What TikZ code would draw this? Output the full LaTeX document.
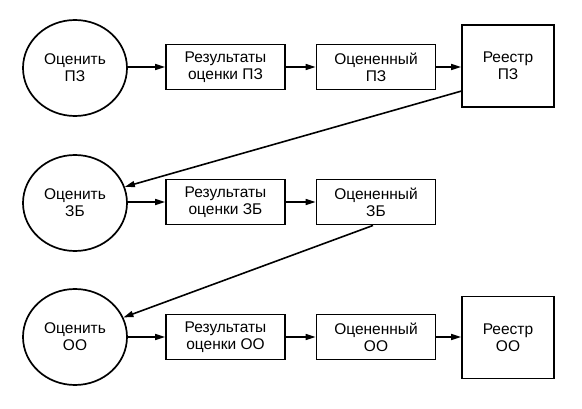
\documentclass[tikz,border=0pt]{standalone}
\usepackage{fontspec}
\setmainfont{Liberation Sans}
\usetikzlibrary{shapes.geometric,arrows.meta,calc}
\tikzset{
  lbl/.style={align=center, font=\fontsize{15.5}{17}\selectfont},
  proc/.style={ellipse, draw, line width=1.7pt, inner sep=0pt, minimum width=104pt, minimum height=96pt, lbl},
  dbox/.style={rectangle, draw, line width=1.9pt, inner sep=0pt, minimum width=119pt, minimum height=45pt, lbl},
  rbox/.style={rectangle, draw, line width=1.9pt, inner sep=0pt, minimum width=92pt, minimum height=82pt, lbl},
  arr/.style={line width=1.6pt, -{Triangle[length=10pt,width=6pt]}}
}
\begin{document}
\begin{tikzpicture}[x=1pt,y=-1pt]
\useasboundingbox (0,0) rectangle (582,409);
% row 1
\node[proc] (c1) at (75,68) {Оценить\\ПЗ};
\node[dbox] (a1) at (225.5,67) {Результаты\\оценки ПЗ};
\node[dbox] (b1) at (376,67) {Оцененный\\ПЗ};
\node[rbox] (r1) at (508,66) {Реестр\\ПЗ};
% row 2
\node[proc] (c2) at (75,203) {Оценить\\ЗБ};
\node[dbox] (a2) at (225.5,202) {Результаты\\оценки ЗБ};
\node[dbox] (b2) at (376,202) {Оцененный\\ЗБ};
% row 3
\node[proc] (c3) at (75,337) {Оценить\\ОО};
\node[dbox] (a3) at (225.5,337) {Результаты\\оценки ОО};
\node[dbox] (b3) at (376,337) {Оцененный\\ОО};
\node[rbox] (r3) at (508,337.5) {Реестр\\ОО};
% connectors
\draw[arr] (c1.east |- a1.west) -- (a1.west);
\draw[arr] (a1) -- (b1);
\draw[arr] (b1) -- (r1.west |- b1.east);
\coordinate (r1s) at ($(r1.south west)!0.2!(r1.north west)$);
\draw[arr] (r1s) -- (c2.18);
\draw[arr] (c2.east |- a2.west) -- (a2.west);
\draw[arr] (a2) -- (b2);
\coordinate (b2s) at ($(b2.south)+(-3,0)$);
\draw[arr] (b2s) -- (c3.22);
\draw[arr] (c3) -- (a3);
\draw[arr] (a3) -- (b3);
\draw[arr] (b3) -- (r3.west |- b3.east);
\end{tikzpicture}
\end{document}
